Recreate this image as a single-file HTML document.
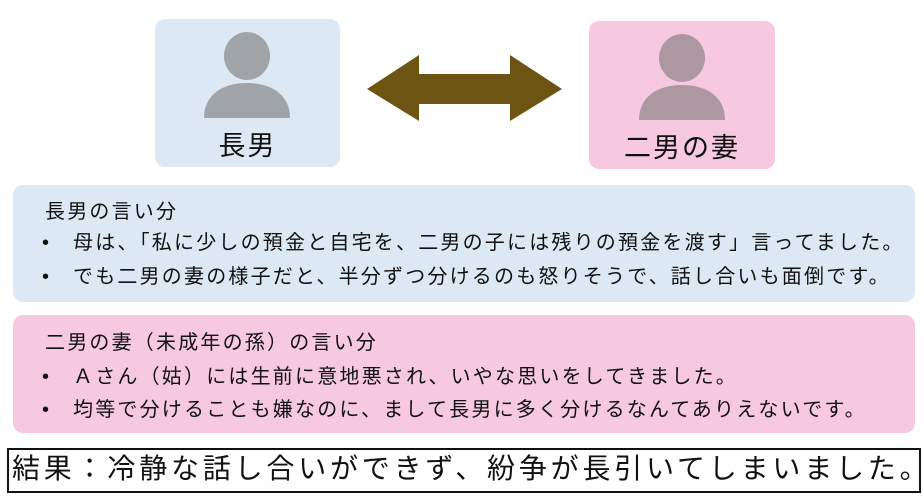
<!DOCTYPE html>
<html><head><meta charset="utf-8"><style>
body{margin:0;width:924px;height:502px;background:#fff;position:relative;overflow:hidden;font-family:"Liberation Sans","Noto Sans CJK JP",sans-serif;color:#111}
.a{position:absolute}
.t{position:absolute;white-space:nowrap;font-size:20px;letter-spacing:2.2px;line-height:24px}
</style></head><body>
<div class="a" style="left:155px;top:19px;width:185px;height:148px;background:#dce9f5;border-radius:10px"></div>
<div class="a" style="left:589px;top:21px;width:186px;height:148px;background:#f6c9e1;border-radius:10px"></div>
<svg class="a" style="left:0;top:0" width="924" height="180">
<ellipse cx="247" cy="56" rx="23" ry="24" fill="#a0a4a8"/>
<path d="M204 118 C204 95 222 83 247 83 C272 83 290 95 290 118 Z" fill="#a0a4a8"/>
<ellipse cx="682" cy="58" rx="23" ry="24" fill="#ad97a0"/>
<path d="M639 120 C639 97 657 85 682 85 C707 85 725 97 725 120 Z" fill="#ad97a0"/>
<polygon points="367,89 419,55 419,74 510,74 510,55 562,89 510,121 510,104 419,104 419,121" fill="#6e5412"/>
</svg>
<div class="t" style="left:155px;width:185px;text-align:center;top:131px;font-size:27px;line-height:30px;letter-spacing:2px">長男</div>
<div class="t" style="left:589px;width:186px;text-align:center;top:133px;font-size:27px;line-height:30px;letter-spacing:2px">二男の妻</div>

<div class="a" style="left:13px;top:185px;width:902px;height:117px;background:#dce9f5;border-radius:10px"></div>
<div class="t" style="left:45px;top:200px">長男の言い分</div>
<div class="t" style="left:42px;top:231px">•</div>
<div class="t" style="left:73px;top:231px">母は、「私に少しの預金と自宅を、二男の子には残りの預金を渡す」言ってました。</div>
<div class="t" style="left:42px;top:265px">•</div>
<div class="t" style="left:73px;top:265px">でも二男の妻の様子だと、半分ずつ分けるのも怒りそうで、話し合いも面倒です。</div>

<div class="a" style="left:13px;top:315px;width:902px;height:118px;background:#f6c9e1;border-radius:10px"></div>
<div class="t" style="left:45px;top:331px">二男の妻（未成年の孫）の言い分</div>
<div class="t" style="left:42px;top:365px">•</div>
<div class="t" style="left:73px;top:365px">Ａさん（姑）には生前に意地悪され、いやな思いをしてきました。</div>
<div class="t" style="left:42px;top:398px">•</div>
<div class="t" style="left:73px;top:398px">均等で分けることも嫌なのに、まして長男に多く分けるなんてありえないです。</div>

<div class="a" style="left:7px;top:448px;width:910px;height:41px;border:2px solid #111"></div>
<div class="t" style="left:12px;top:452px;font-size:28px;line-height:34px;letter-spacing:3.8px">結果：冷静な話し合いができず、紛争が長引いてしまいました。</div>
</body></html>
